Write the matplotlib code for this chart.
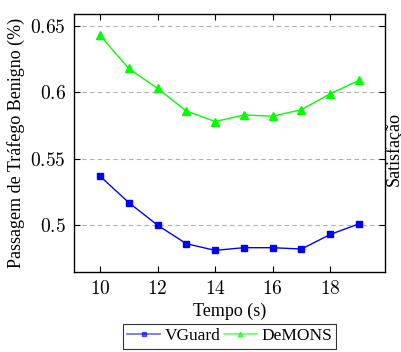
import matplotlib
matplotlib.use("Agg")
import matplotlib.pyplot as plt
from matplotlib.lines import Line2D

x = [10, 11, 12, 13, 14, 15, 16, 17, 18, 19]
vguard = [0.537, 0.517, 0.500, 0.486, 0.481, 0.483, 0.483, 0.482, 0.493, 0.501]
demons = [0.643, 0.618, 0.603, 0.586, 0.578, 0.583, 0.582, 0.587, 0.599, 0.609]
xticks = [10, 12, 14, 16, 18]
yticks = [0.5, 0.55, 0.6, 0.65]
ytick_labels = ["0.5", "0.55", "0.6", "0.65"]

plt.rcParams['font.family'] = ['Liberation Serif', 'DejaVu Serif']
plt.rcParams['mathtext.fontset'] = 'cm'
plt.rcParams['font.size'] = 13

fig = plt.figure(figsize=(4.01, 3.52), dpi=100)
ax = fig.add_axes([74/401, 1 - 272/352, (385-74)/401, (272-14)/352])

ax.plot(x, vguard, color='#0000ff', marker='s', markersize=5, linewidth=1)
ax.plot(x, demons, color='#00ff00', marker='^', markersize=5.5, linewidth=1)

ax.set_xlim(9.1, 19.9)
ax.set_ylim(0.4647, 0.659)
ax.set_xticks(xticks)
ax.set_xticklabels([f"${t}$" for t in xticks])
ax.set_yticks(yticks)
ax.set_yticklabels([f"${t}$" for t in ytick_labels])
ax.yaxis.grid(True, linestyle=(0, (4, 3)), color='#b0b0b0', linewidth=0.8)
ax.set_axisbelow(True)
ax.tick_params(direction='in', top=True, right=True, length=4, width=0.8, labelsize=14, pad=6)
for s in ax.spines.values():
    s.set_linewidth(1.0)

ax.set_xlabel('Tempo (s)', fontsize=13, labelpad=3)
ax.set_ylabel('Passagem de Tráfego Benigno (%)', fontsize=13, labelpad=4)
fig.text(393.5/401, 1 - 149/352, 'Satisfação', rotation=90, ha='center', va='center', fontsize=13)

h1 = Line2D([], [], color='#0000ff', marker='s', markersize=3.5, linewidth=1.2, alpha=0.6,
            markerfacecolor='#0000ff', markeredgecolor='#0000ff')
h2 = Line2D([], [], color='#00ff00', marker='^', markersize=3.5, linewidth=1.2, alpha=0.6,
            markerfacecolor='#00ff00', markeredgecolor='#00ff00')
leg = ax.legend(handles=[h1, h2], labels=['VGuard', 'DeMONS'], loc='upper center',
                bbox_to_anchor=(0.5, 1 - (324-14)/(272-14)), ncol=2,
                frameon=True, fancybox=False, edgecolor='black', fontsize=12.5,
                handlelength=1.9, columnspacing=0.2, handletextpad=0.25,
                borderpad=0.25, borderaxespad=0)
leg.get_frame().set_linewidth(0.8)

fig.savefig('out.png', dpi=100)
